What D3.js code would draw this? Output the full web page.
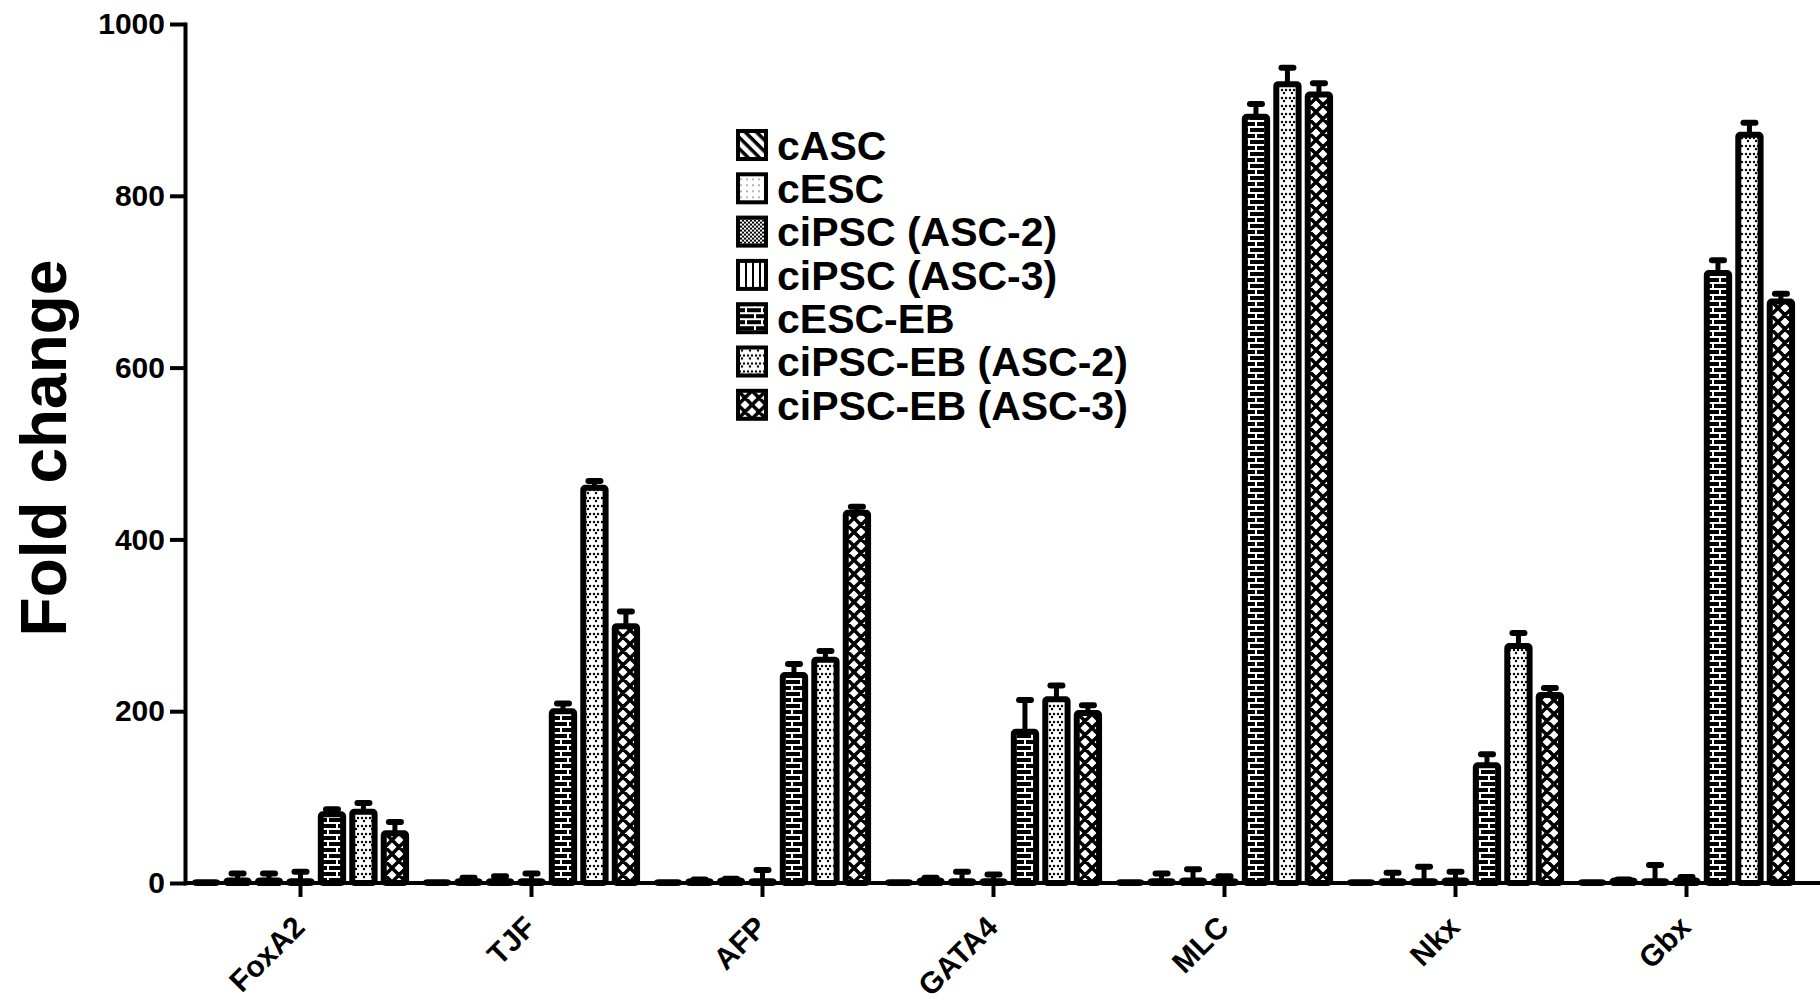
<!DOCTYPE html>
<html>
<head>
<meta charset="utf-8">
<script src="https://cdn.jsdelivr.net/npm/d3@7"></script>
<style>
  body { margin: 0; background: #fff; }
  svg text { font-family: Arial, "Liberation Sans", sans-serif; font-weight: bold; fill: #000; }
</style>
</head>
<body>
<div id="app"></div>
<script>
const genes = ['FoxA2', 'TJF', 'AFP', 'GATA4', 'MLC', 'Nkx', 'Gbx'];
const groups = ['cASC', 'cESC', 'ciPSC (ASC-2)', 'ciPSC (ASC-3)', 'cESC-EB', 'ciPSC-EB (ASC-2)', 'ciPSC-EB (ASC-3)'];

// mean fold change, one value per gene (same order as genes)
const cASC = [1, 1, 1, 1, 1, 1, 1];
const cESC = [3, 2, 2, 3, 2, 2, 3];
const ciPSC2 = [3, 2, 3, 2, 3, 2, 2];
const ciPSC3 = [2, 2, 2, 2, 2, 3, 3];
const cESCEB = [80, 200, 242, 176, 892, 137, 710];
const ciPSCEB2 = [83, 460, 260, 214, 930, 276, 871];
const ciPSCEB3 = [58, 299, 431, 198, 918, 219, 677];

// upper error (SEM) per gene
const cASCErr = [0, 0, 0, 0, 0, 0, 0];
const cESCErr = [8, 4, 2, 3, 9, 10, 1];
const ciPSC2Err = [8, 6, 2, 11, 13, 17, 19];
const ciPSC3Err = [11, 9, 13, 8, 6, 10, 4];
const cESCEBErr = [6, 9, 13, 37, 15, 13, 15];
const ciPSCEB2Err = [10, 8, 10, 16, 19, 15, 14];
const ciPSCEB3Err = [13, 17, 7, 9, 13, 8, 9];

const yTicks = [0, 200, 400, 600, 800, 1000];

const means = [cASC, cESC, ciPSC2, ciPSC3, cESCEB, ciPSCEB2, ciPSCEB3];
const errs = [cASCErr, cESCErr, ciPSC2Err, ciPSC3Err, cESCEBErr, ciPSCEB2Err, ciPSCEB3Err];
const patIds = ['pDiag', 'pDots', 'pCheck', 'pVert', 'pBrick', 'pHeart', 'pCross'];

const rows = [];
genes.forEach((g, gi) => {
  groups.forEach((s, si) => {
    rows.push({ gene: g, group: s, si: si, value: means[si][gi], err: errs[si][gi] });
  });
});

const w = 1820;
const h = 1001;

const svg = d3.select('#app')
  .append('svg')
  .attr('width', w)
  .attr('height', h);

// fill patterns
const defs = svg.append('defs');

const pDiag = defs.append('pattern').attr('id', 'pDiag').attr('patternUnits', 'userSpaceOnUse')
  .attr('width', 8).attr('height', 8).attr('patternTransform', 'rotate(45)');
pDiag.append('rect').attr('width', 8).attr('height', 8).attr('fill', '#fff');
pDiag.append('rect').attr('width', 8).attr('height', 3.5).attr('fill', '#000');

const pDots = defs.append('pattern').attr('id', 'pDots').attr('patternUnits', 'userSpaceOnUse')
  .attr('width', 6).attr('height', 6);
pDots.append('rect').attr('width', 6).attr('height', 6).attr('fill', '#fff');
pDots.append('circle').attr('cx', 3).attr('cy', 3).attr('r', 0.8).attr('fill', '#555');

const pCheck = defs.append('pattern').attr('id', 'pCheck').attr('patternUnits', 'userSpaceOnUse')
  .attr('width', 4).attr('height', 4);
pCheck.append('rect').attr('width', 4).attr('height', 4).attr('fill', '#fff');
pCheck.append('rect').attr('width', 2).attr('height', 2).attr('fill', '#000');
pCheck.append('rect').attr('x', 2).attr('y', 2).attr('width', 2).attr('height', 2).attr('fill', '#000');

const pVert = defs.append('pattern').attr('id', 'pVert').attr('patternUnits', 'userSpaceOnUse')
  .attr('width', 7).attr('height', 7);
pVert.append('rect').attr('width', 7).attr('height', 7).attr('fill', '#fff');
pVert.append('rect').attr('width', 2).attr('height', 7).attr('fill', '#000');

const pBrick = defs.append('pattern').attr('id', 'pBrick').attr('patternUnits', 'userSpaceOnUse')
  .attr('width', 16).attr('height', 12);
pBrick.append('rect').attr('width', 16).attr('height', 12).attr('fill', '#000');
pBrick.append('path').attr('d', 'M0,1H16M0,7H16M8,0V7M1,7V12')
  .attr('stroke', '#fff').attr('stroke-width', 2).attr('fill', 'none');

const pHeart = defs.append('pattern').attr('id', 'pHeart').attr('patternUnits', 'userSpaceOnUse')
  .attr('width', 8).attr('height', 8);
pHeart.append('rect').attr('width', 8).attr('height', 8).attr('fill', '#fff');
[[2, 2], [6, 2], [4, 5]].forEach(p => {
  pHeart.append('circle').attr('cx', p[0]).attr('cy', p[1]).attr('r', 1.2).attr('fill', '#000');
});

const pCross = defs.append('pattern').attr('id', 'pCross').attr('patternUnits', 'userSpaceOnUse')
  .attr('width', 14).attr('height', 14);
pCross.append('rect').attr('width', 14).attr('height', 14).attr('fill', '#fff');
pCross.append('path').attr('d', 'M0,0L14,14M14,0L0,14M-1,13L1,15M13,-1L15,1M-1,1L1,-1M13,15L15,13')
  .attr('stroke', '#000').attr('stroke-width', 3.5);

// scales
const x0 = d3.scaleBand()
  .domain(genes)
  .range([185, 1802])
  .paddingInner(0.06)
  .paddingOuter(0.03);

const x1 = d3.scaleBand()
  .domain(groups)
  .range([0, x0.bandwidth()])
  .paddingInner(0.1);

const y = d3.scaleLinear()
  .domain([0, 1000])
  .range([883, 24]);

const sw = 6;

// bars
svg.append('g').selectAll('rect')
  .data(rows)
  .join('rect')
  .attr('x', d => x0(d.gene) + x1(d.group) + sw / 2)
  .attr('width', x1.bandwidth() - sw)
  .attr('y', d => y(d.value))
  .attr('height', d => y(0) - y(d.value))
  .attr('rx', 2)
  .attr('fill', d => 'url(#' + patIds[d.si] + ')')
  .attr('stroke', '#000')
  .attr('stroke-width', sw)
  .attr('stroke-linejoin', 'round');

// error bars (upper only)
const eb = svg.append('g').selectAll('g')
  .data(rows.filter(d => d.err > 0))
  .join('g')
  .attr('transform', d => 'translate(' + (x0(d.gene) + x1(d.group) + x1.bandwidth() / 2) + ',0)');

eb.append('line')
  .attr('x1', 0).attr('x2', 0)
  .attr('y1', d => y(d.value))
  .attr('y2', d => y(d.value + d.err))
  .attr('stroke', '#000')
  .attr('stroke-width', 5);

eb.append('line')
  .attr('x1', -6).attr('x2', 6)
  .attr('y1', d => y(d.value + d.err))
  .attr('y2', d => y(d.value + d.err))
  .attr('stroke', '#000')
  .attr('stroke-width', 6)
  .attr('stroke-linecap', 'round');

// axes
const xAxis = svg.append('g')
  .attr('transform', 'translate(0,' + y(0) + ')')
  .call(d3.axisBottom(x0).tickSize(14).tickSizeOuter(0));
xAxis.select('.domain').attr('d', 'M185,0H1820');
xAxis.selectAll('path, line').attr('stroke', '#000').attr('stroke-width', 4);
xAxis.selectAll('text')
  .attr('x', 0).attr('y', 0).attr('dy', 0)
  .attr('transform', 'translate(6,46) rotate(-45)')
  .attr('text-anchor', 'end')
  .style('font-size', '30px');

const yAxis = svg.append('g')
  .attr('transform', 'translate(185,0)')
  .call(d3.axisLeft(y).tickValues(yTicks).tickFormat(d3.format('d')).tickSize(15).tickSizeOuter(0).tickPadding(5));
yAxis.selectAll('path, line').attr('stroke', '#000').attr('stroke-width', 4);
yAxis.select('.domain').attr('stroke-linecap', 'square');
yAxis.selectAll('text').style('font-size', '30px');

svg.append('text')
  .attr('transform', 'translate(66,' + 448 + ') rotate(-90)')
  .attr('text-anchor', 'middle')
  .style('font-size', '64px')
  .text('Fold change');

// legend
const legend = svg.append('g').selectAll('g')
  .data(groups)
  .join('g')
  .attr('transform', (d, i) => 'translate(738,' + (145 + i * 43.3) + ')');

legend.append('rect')
  .attr('x', 0).attr('y', -14)
  .attr('width', 28).attr('height', 28)
  .attr('fill', (d, i) => 'url(#' + patIds[i] + ')')
  .attr('stroke', '#000')
  .attr('stroke-width', 4);

legend.append('text')
  .attr('x', 39)
  .attr('dy', '0.36em')
  .style('font-size', '41px')
  .text(d => d);
</script>
</body>
</html>
